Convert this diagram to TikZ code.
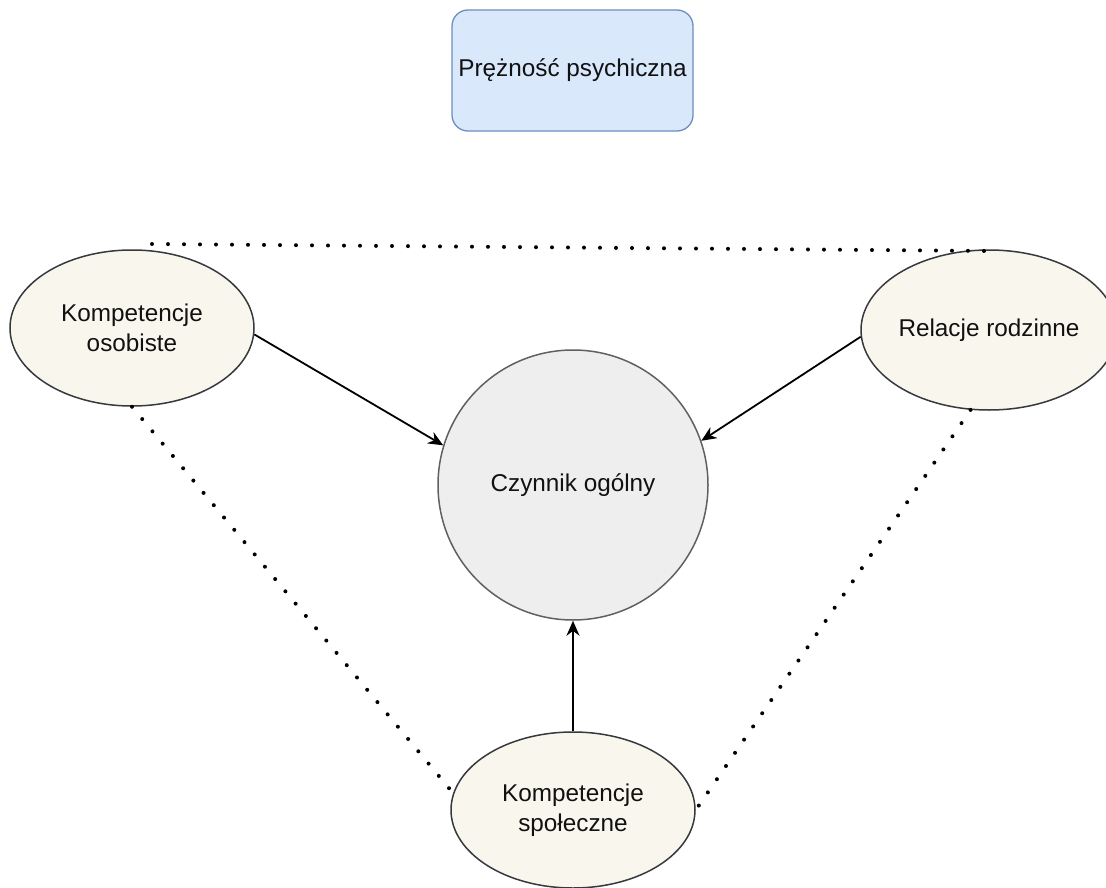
\documentclass[tikz,border=0pt]{standalone}
\usepackage{fontspec}
\setmainfont{Liberation Sans}
\usetikzlibrary{shapes.geometric,arrows.meta}
\definecolor{boxfill}{HTML}{DAE8FC}
\definecolor{boxdraw}{HTML}{6C8EBF}
\definecolor{ellfill}{HTML}{F9F7ED}
\definecolor{elldraw}{HTML}{36393D}
\definecolor{circfill}{HTML}{EEEEEE}
\definecolor{txt}{HTML}{111111}
\tikzset{
  every node/.style={text=txt, font=\fontsize{24.3}{30}\selectfont},
  topbox/.style={draw=boxdraw, fill=boxfill, line width=1.3pt, rounded corners=16pt,
    minimum width=241pt, minimum height=121pt, inner sep=0pt},
  factor/.style={ellipse, draw=elldraw, fill=ellfill, line width=1.5pt,
    minimum width=244pt, minimum height=156pt, inner sep=0pt, align=center},
  general/.style={circle, draw=elldraw!80, fill=circfill, line width=1.5pt,
    minimum size=270pt, inner sep=0pt},
  link/.style={draw=black, line width=1.8pt, -{Stealth[length=15pt,width=13pt]}},
  dotline/.style={draw=black, line width=4pt, line cap=round, dash pattern=on 0pt off 16pt}
}
\begin{document}
\begin{tikzpicture}[x=1pt,y=-1pt]
\path[use as bounding box, fill=white] (0,0) rectangle (1106,888);

\node[topbox] (pp) at (572.5,70.5) {Prężność psychiczna};
\node[general] (cz) at (573,485) {Czynnik ogólny};
\node[factor] (ko) at (132,328) {Kompetencje\\osobiste};
\node[factor, minimum width=232pt, minimum height=160pt] (rr) at (989,330) {Relacje rodzinne};
\node[factor] (ks) at (573,810) {Kompetencje\\społeczne};

\coordinate (tl) at (152,244);
\coordinate (tr) at (990,251);

\draw[dotline] (tl) -- (tr);
\draw[dotline] (ko.south) -- (ks.172);
\draw[dotline] (rr.-103) -- (ks.east);

\draw[link] (ko.-3) -- (cz.163.5);
\draw[link] (rr.183) -- (cz.19.5);
\draw[link] (ks.north) -- (cz.south);
\end{tikzpicture}
\end{document}
